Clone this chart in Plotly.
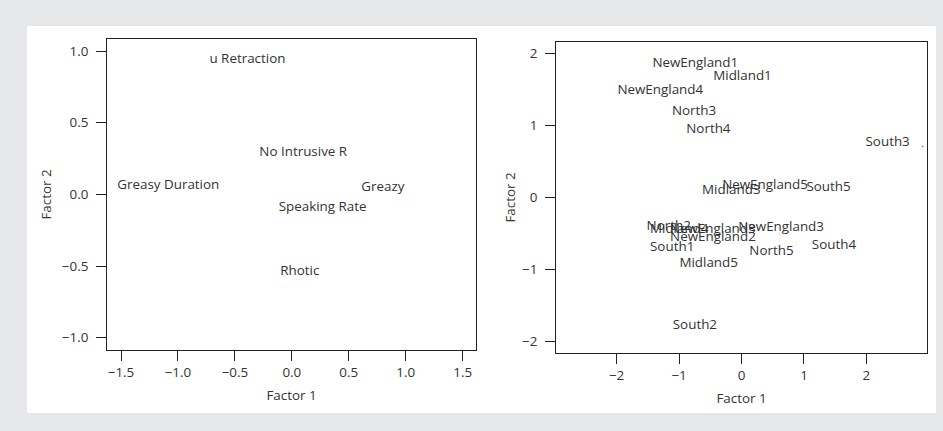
import plotly.graph_objects as go

# Left panel: variable loadings
var_labels = ["u Retraction", "No Intrusive R", "Greasy Duration", "Greazy", "Speaking Rate", "Rhotic"]
var_f1 = [-0.39, 0.10, -1.085, 0.80, 0.27, 0.07]
var_f2 = [0.937, 0.29, 0.06, 0.05, -0.096, -0.54]

# Right panel: speaker scores
spk_labels = ["NewEngland1", "Midland1", "NewEngland4", "North3", "North4", "South3",
              "NewEngland5", "Midland3", "South5", "NewEngland3", "North2", "Midland4",
              "NewEngland3", "NewEngland2", "South1", "North5", "South4", "Midland5", "South2"]
spk_f1 = [-0.74, 0.016, -1.30, -0.76, -0.53, 2.34,
          0.377, -0.163, 1.394, 0.634, -1.165, -0.997,
          -0.46, -0.457, -1.11, 0.48, 1.48, -0.526, -0.746]
spk_f2 = [1.857, 1.676, 1.486, 1.19, 0.944, 0.76,
          0.167, 0.097, 0.135, -0.42, -0.407, -0.449,
          -0.45, -0.564, -0.694, -0.75, -0.67, -0.92, -1.778]
stray_f1 = [2.90]
stray_f2 = [0.708]

left_ticks = [-1.5, -1.0, -0.5, 0.0, 0.5, 1.0, 1.5]
left_yticks = [-1.0, -0.5, 0.0, 0.5, 1.0]
right_ticks = [-2, -1, 0, 1, 2]

FONT = "Open Sans"
TXT = "#333333"
W, H = 943, 431
FS = 13.4

fig = go.Figure()
fig.add_trace(go.Scatter(x=var_f1, y=var_f2, text=var_labels, mode="text",
                         textposition="middle center",
                         textfont=dict(family=FONT, size=FS, color=TXT),
                         xaxis="x", yaxis="y", hoverinfo="skip", showlegend=False))
fig.add_trace(go.Scatter(x=spk_f1, y=spk_f2, text=spk_labels, mode="text",
                         textposition="middle center",
                         textfont=dict(family=FONT, size=FS, color=TXT),
                         xaxis="x2", yaxis="y2", hoverinfo="skip", showlegend=False))
fig.add_trace(go.Scatter(x=stray_f1, y=stray_f2, mode="markers",
                         marker=dict(size=2, color="#999999"),
                         xaxis="x2", yaxis="y2", hoverinfo="skip", showlegend=False))

ax_common = dict(showline=True, mirror=True, linecolor="#222222", linewidth=1,
                 ticks="outside", ticklen=10, tickcolor="#222222", tickwidth=1,
                 showgrid=False, zeroline=False,
                 tickfont=dict(family=FONT, size=FS, color=TXT),
                 title_font=dict(family=FONT, size=FS, color=TXT))

def px_dom_x(a, b):
    return [a / W, b / W]

def px_dom_y(top, bottom):
    return [(H - bottom) / H, (H - top) / H]

fig.update_layout(
    width=W, height=H,
    margin=dict(l=0, r=0, t=0, b=0),
    paper_bgcolor="#e6e7e8",
    plot_bgcolor="white",
    xaxis=dict(domain=px_dom_x(107, 476), range=[-1.623, 1.617], tickvals=left_ticks,
               tickformat=".1f", title_text="Factor 1", title_standoff=10, anchor="y",
               ticklabelstandoff=0, **ax_common),
    yaxis=dict(domain=px_dom_y(39, 350), range=[-1.086, 1.084], tickvals=left_yticks,
               tickformat=".1f", title_text="Factor 2", title_standoff=7, anchor="x",
               ticklabelstandoff=5, **ax_common),
    xaxis2=dict(domain=px_dom_x(556, 927), range=[-2.97, 2.97], tickvals=right_ticks,
                title_text="Factor 1", title_standoff=10, anchor="y2",
                ticklabelstandoff=0, **ax_common),
    yaxis2=dict(domain=px_dom_y(42, 353), range=[-2.16, 2.16], tickvals=right_ticks,
                title_text="Factor 2", title_standoff=3, anchor="x2",
                ticklabelstandoff=5, **ax_common),
    shapes=[dict(type="rect", xref="paper", yref="paper",
                 x0=27 / W, x1=936 / W, y0=(H - 413) / H, y1=(H - 26) / H,
                 fillcolor="white", line=dict(width=0), layer="below")],
)

fig.write_html("out.html")
